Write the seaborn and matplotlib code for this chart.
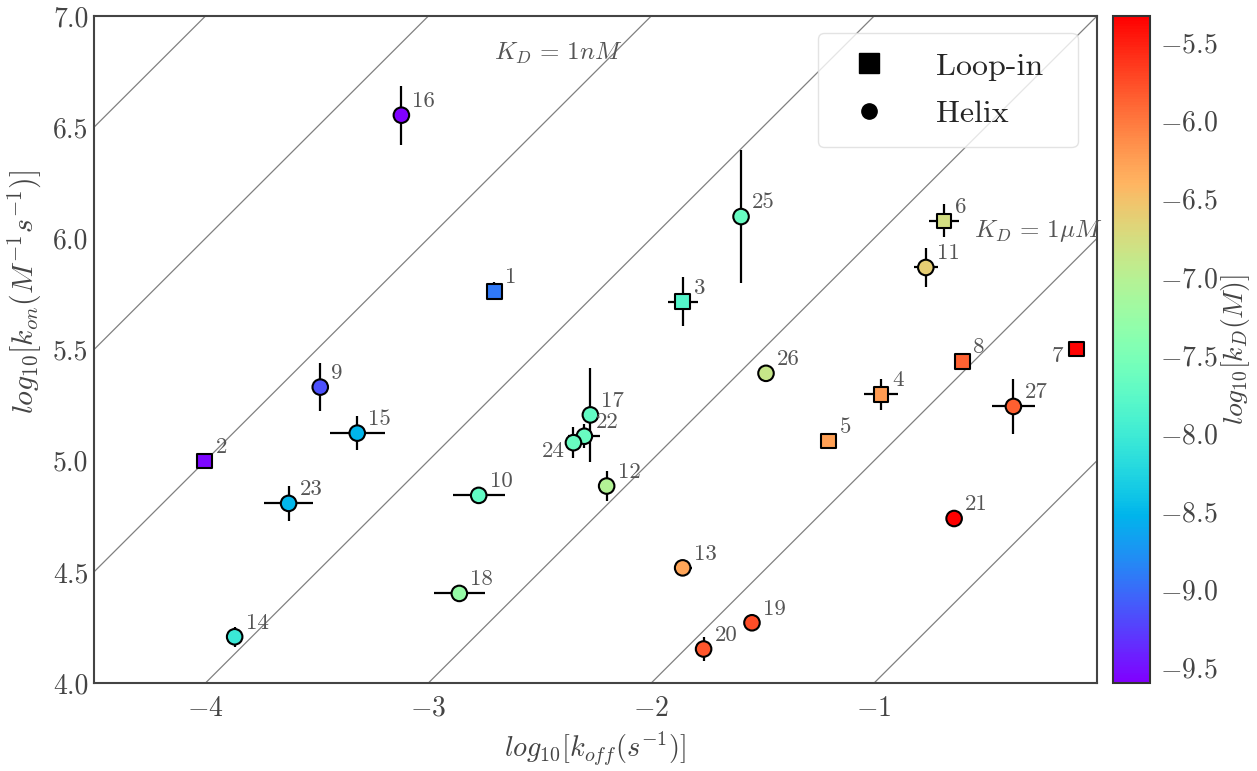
import numpy as np
import pandas as pd
import matplotlib
matplotlib.use('Agg')
import matplotlib.pyplot as plt
import seaborn as sns
from matplotlib.lines import Line2D
from matplotlib.colors import Normalize

ids = list(range(1, 28))
kind = ['Loop-in'] * 8 + ['Helix'] * 19

log_koff = [-2.704, -4.004, -1.859, -0.970, -1.204, -0.686, -0.091, -0.604, -3.485,
            -2.774, -0.768, -2.200, -1.859, -3.869, -3.319, -3.121, -2.273, -2.861,
            -1.548, -1.765, -0.641, -2.300, -3.627, -2.349, -1.597, -1.485, -0.375]
log_kon = [5.762, 4.998, 5.715, 5.298, 5.088, 6.079, 5.503, 5.447, 5.331,
           4.844, 5.869, 4.886, 4.518, 4.208, 5.124, 6.554, 5.206, 4.403,
           4.271, 4.153, 4.740, 5.110, 4.808, 5.081, 6.098, 5.393, 5.244]
koff_err = [0.0, 0.0, 0.067, 0.075, 0.0, 0.067, 0.0, 0.0, 0.0,
            0.116, 0.054, 0.0, 0.04, 0.0, 0.123, 0.0, 0.0, 0.114,
            0.0, 0.0, 0.0, 0.072, 0.11, 0.0, 0.0, 0.0, 0.097]
kon_err = [0.04, 0.0, 0.109, 0.07, 0.0, 0.075, 0.0, 0.0, 0.109,
           0.03, 0.087, 0.067, 0.0, 0.045, 0.076, 0.133, 0.21, 0.03,
           0.0, 0.055, 0.0, 0.055, 0.078, 0.071, 0.30, 0.0, 0.122]
log_kd = [-8.92, -9.55, -7.83, -6.23, -6.25, -6.78, -5.35, -5.88, -9.15,
          -7.70, -6.61, -7.04, -6.29, -8.04, -8.53, -9.60, -7.70, -7.27,
          -5.76, -5.80, -5.33, -7.65, -8.50, -7.65, -7.68, -6.87, -5.86]

# iso-affinity lines, log10(K_D)
kd_lines = [-11, -10, -9, -8, -7, -6, -5]

df = pd.DataFrame({'id': ids, 'type': kind, 'koff': log_koff, 'kon': log_kon,
                   'xerr': koff_err, 'yerr': kon_err, 'kd': log_kd})

sns.set_style('white')
plt.rcParams.update({
    'font.family': 'serif',
    'font.serif': ['cmr10'],
    'mathtext.fontset': 'cm',
    'axes.formatter.use_mathtext': True,
})

fig = plt.figure(figsize=(12.57, 7.71), dpi=100)
ax = fig.add_axes([0.0748, 0.1141, 0.7979, 0.8651])
cax = fig.add_axes([0.8855, 0.1141, 0.0294, 0.8651])

norm = Normalize(vmin=min(log_kd), vmax=max(log_kd))

xs = np.array([-4.5, 0.0])
for lk in kd_lines:
    ax.plot(xs, xs - lk, color='gray', lw=0.9, zorder=1)

ax.errorbar(df['koff'], df['kon'], xerr=df['xerr'], yerr=df['yerr'], fmt='none',
            ecolor='black', elinewidth=1.6, capsize=0, zorder=2)

sns.scatterplot(data=df, x='koff', y='kon', hue='kd', palette='rainbow', hue_norm=norm,
                style='type', markers={'Loop-in': 's', 'Helix': 'o'},
                size='type', sizes={'Loop-in': 110, 'Helix': 125},
                edgecolor='black', linewidth=1.5, legend=False, ax=ax, zorder=3)

for _, r in df.iterrows():
    if r['id'] == 7:
        ax.annotate('7', (r['koff'], r['kon']), xytext=(-10, -5), textcoords='offset points',
                    ha='right', va='center', fontsize=16.5, color='#555555')
    elif r['id'] == 24:
        ax.annotate('24', (r['koff'], r['kon']), xytext=(-6, -6), textcoords='offset points',
                    ha='right', va='center', fontsize=16.5, color='#555555')
    else:
        ax.annotate(str(r['id']), (r['koff'], r['kon']), xytext=(8, 10),
                    textcoords='offset points', ha='left', va='center',
                    fontsize=16.5, color='#555555')

ax.text(-2.704, 6.83, r'$K_D\,=\,1nM$', fontsize=18, color='#555555', ha='left', va='center')
ax.text(-0.551, 6.034, r'$K_D\,=\,1\mu M$', fontsize=18, color='#555555', ha='left', va='center')

ax.set_xlim(-4.5, 0.0)
ax.set_ylim(4.0, 7.0)
ax.set_xticks([-4, -3, -2, -1])
ax.set_yticks([4.0, 4.5, 5.0, 5.5, 6.0, 6.5, 7.0])
ax.yaxis.set_major_formatter(matplotlib.ticker.FormatStrFormatter('%.1f'))
ax.tick_params(length=0, labelsize=20, labelcolor='#444444')
ax.tick_params(axis='x', pad=9)
ax.tick_params(axis='y', pad=4)
for sp in ax.spines.values():
    sp.set_color('#444444')
    sp.set_linewidth(1.5)

ax.set_xlabel(r'$log_{10}[k_{off}(s^{-1})]$', fontsize=20.5, color='#444444', labelpad=6)
ax.set_ylabel(r'$log_{10}[k_{on}(M^{-1}s^{-1})]$', fontsize=21.5, color='#444444')
ax.yaxis.set_label_coords(-0.05, 0.586)

handles = [Line2D([], [], marker='s', color='black', ls='none', markersize=14),
           Line2D([], [], marker='o', color='black', ls='none', markersize=11)]
leg = ax.legend(handles, ['Loop-in', 'Helix'], loc='upper left',
                bbox_to_anchor=(0.7215, 0.80, 0.2592, 0.1745), mode='expand',
                borderaxespad=0, fontsize=23, frameon=True, fancybox=True,
                edgecolor='#dddddd', framealpha=0.8, borderpad=0.6,
                handletextpad=1.1, labelspacing=0.6)

sm = matplotlib.cm.ScalarMappable(norm=norm, cmap='rainbow')
cb = fig.colorbar(sm, cax=cax)
cb.set_ticks([-5.5, -6.0, -6.5, -7.0, -7.5, -8.0, -8.5, -9.0, -9.5])
cb.ax.tick_params(length=0, labelsize=20, labelcolor='#444444', pad=7)
cb.outline.set_edgecolor('#333333')
cb.outline.set_linewidth(1.5)
cb.set_label(r'$log_{10}[k_D(M)]$', fontsize=20, color='#444444', labelpad=1)

plt.savefig('out.png', dpi=100)
